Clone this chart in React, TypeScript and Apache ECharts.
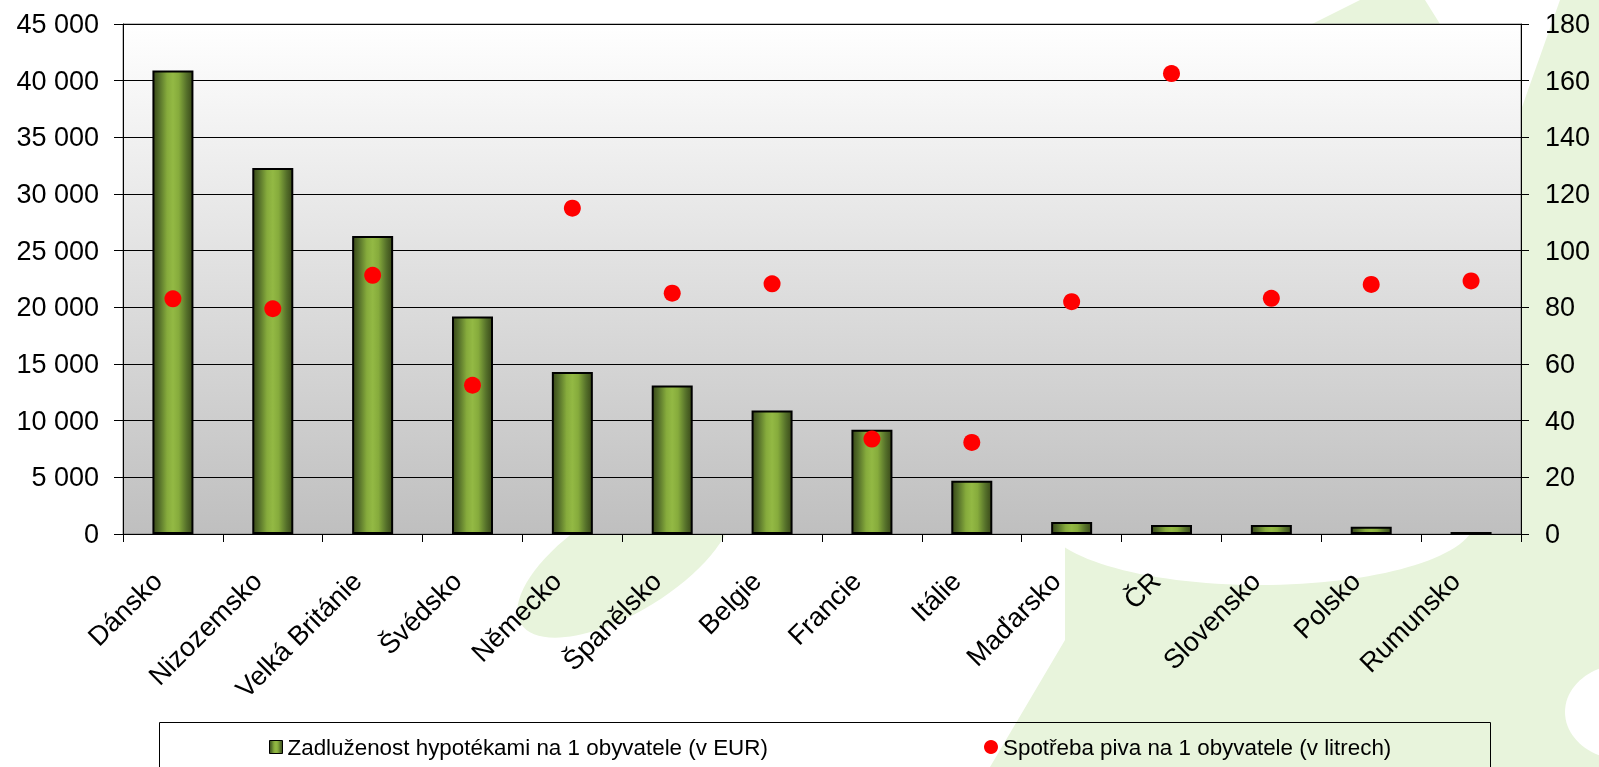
import React, { useEffect, useRef } from "react";
import * as echarts from "echarts";

// Countries on the category axis
const countries = [
  "Dánsko",
  "Nizozemsko",
  "Velká Británie",
  "Švédsko",
  "Německo",
  "Španělsko",
  "Belgie",
  "Francie",
  "Itálie",
  "Maďarsko",
  "ČR",
  "Slovensko",
  "Polsko",
  "Rumunsko",
];

// Mortgage debt per inhabitant (EUR) – bars, left axis
const mortgagePerCapita = [
  40900, 32300, 26300, 19200, 14300, 13100, 10900, 9200, 4700, 1050, 800, 800,
  650, 180,
];

// Beer consumption per inhabitant (litres) – dots, right axis
const beerPerCapita = [
  83, 79.5, 91.3, 52.5, 115, 85, 88.3, 33.5, 32.3, 82, 162.5, 83.2, 88.1, 89.3,
];

const seriesNames = [
  "Zadluženost hypotékami na 1 obyvatele (v EUR)",
  "Spotřeba piva na 1 obyvatele (v litrech)",
];

// Axis ranges
const leftAxisMax = 45000;
const leftAxisStep = 5000;
const rightAxisMax = 180;
const rightAxisStep = 20;

const FONT = "'Liberation Sans', Arial, sans-serif";
const WATERMARK = "#e8f4dc";

const withSpaces = (v: number) =>
  String(v).replace(/\B(?=(\d{3})+(?!\d))/g, " ");

export default function App() {
  const ref = useRef<HTMLDivElement>(null);

  useEffect(() => {
    if (!ref.current) return;
    const chart = echarts.init(ref.current, null, { renderer: "svg" });

    const barFill = new echarts.graphic.LinearGradient(0, 0, 1, 0, [
      { offset: 0, color: "#3a4a19" },
      { offset: 0.15, color: "#55702a" },
      { offset: 0.35, color: "#86ab3c" },
      { offset: 0.5, color: "#93b944" },
      { offset: 0.65, color: "#86ab3c" },
      { offset: 0.85, color: "#55702a" },
      { offset: 1, color: "#3a4a19" },
    ]);

    const plotFill = new echarts.graphic.LinearGradient(0, 0, 0, 1, [
      { offset: 0, color: "#ffffff" },
      { offset: 1, color: "#bfbfbf" },
    ]);

    chart.setOption({
      animation: false,
      textStyle: { fontFamily: FONT },
      graphic: [
        // pale green background emblem
        {
          type: "ellipse",
          z: -10,
          silent: true,
          x: 625,
          y: 560,
          rotation: 0.55,
          shape: { cx: 0, cy: 0, rx: 122, ry: 52 },
          style: { fill: WATERMARK },
        },
        {
          type: "polygon",
          z: -10,
          silent: true,
          shape: {
            points: [
              [1065, 530],
              [1599, 530],
              [1599, 767],
              [990, 767],
              [1065, 640],
            ],
          },
          style: { fill: WATERMARK },
        },
        {
          type: "ellipse",
          z: -9,
          silent: true,
          shape: { cx: 1260, cy: 520, rx: 215, ry: 65 },
          style: { fill: "#ffffff" },
        },
        {
          type: "polygon",
          z: -10,
          silent: true,
          shape: {
            points: [
              [1521, 110],
              [1560, 0],
              [1599, 0],
              [1599, 767],
              [1521, 767],
            ],
          },
          style: { fill: WATERMARK },
        },
        {
          type: "ellipse",
          z: -9,
          silent: true,
          shape: { cx: 1625, cy: 712, rx: 60, ry: 48 },
          style: { fill: "#ffffff" },
        },
        {
          type: "polygon",
          z: -10,
          silent: true,
          shape: {
            points: [
              [1312, 24],
              [1360, 0],
              [1425, 0],
              [1440, 24],
            ],
          },
          style: { fill: WATERMARK },
        },
        // legend frame
        {
          type: "rect",
          z: 5,
          silent: true,
          shape: { x: 159.5, y: 722.5, width: 1331, height: 60 },
          style: { fill: "none", stroke: "#000000", lineWidth: 1 },
        },
      ],
      legend: [
        {
          data: [seriesNames[0]],
          left: 269,
          top: 736,
          padding: 0,
          icon: "rect",
          itemWidth: 13,
          itemHeight: 13,
          itemStyle: { borderColor: "#000", borderWidth: 1 },
          textStyle: { fontSize: 22.4, color: "#000", fontFamily: FONT },
        },
        {
          data: [seriesNames[1]],
          left: 984,
          top: 736,
          padding: 0,
          icon: "circle",
          itemWidth: 14,
          itemHeight: 14,
          itemStyle: { opacity: 1 },
          textStyle: { fontSize: 22.4, color: "#000", fontFamily: FONT },
        },
      ],
      grid: {
        left: 123,
        right: 78,
        top: 24,
        bottom: 233,
        show: true,
        backgroundColor: plotFill,
        borderColor: "#808080",
        borderWidth: 1,
      },
      xAxis: {
        type: "category",
        data: countries,
        axisLine: { lineStyle: { color: "#000", width: 1 } },
        axisTick: { show: true, length: 8, lineStyle: { color: "#000" } },
        axisLabel: {
          interval: 0,
          rotate: 45,
          margin: 27,
          padding: [0, 22, 0, 0],
          fontSize: 27,
          color: "#000",
          fontFamily: FONT,
        },
      },
      yAxis: [
        {
          type: "value",
          min: 0,
          max: leftAxisMax,
          interval: leftAxisStep,
          axisLine: { show: true, lineStyle: { color: "#000" } },
          axisTick: { show: true, length: 9, lineStyle: { color: "#000" } },
          axisLabel: {
            margin: 24,
            fontSize: 27,
            color: "#000",
            fontFamily: FONT,
            formatter: (v: number) => withSpaces(v),
          },
          splitLine: { show: true, lineStyle: { color: "#000", width: 1 } },
        },
        {
          type: "value",
          position: "right",
          min: 0,
          max: rightAxisMax,
          interval: rightAxisStep,
          axisLine: { show: true, lineStyle: { color: "#000" } },
          axisTick: { show: true, length: 8, lineStyle: { color: "#000" } },
          axisLabel: {
            margin: 24,
            fontSize: 27,
            color: "#000",
            fontFamily: FONT,
          },
          splitLine: { show: false },
        },
      ],
      series: [
        {
          name: seriesNames[0],
          type: "bar",
          data: mortgagePerCapita,
          barWidth: 41,
          itemStyle: {
            color: barFill,
            borderColor: "#000",
            borderWidth: 2,
          },
        },
        {
          name: seriesNames[1],
          type: "scatter",
          yAxisIndex: 1,
          data: beerPerCapita,
          symbol: "circle",
          symbolSize: 17,
          itemStyle: { color: "#ff0000", opacity: 1 },
          z: 5,
        },
      ],
    });

    return () => chart.dispose();
  }, []);

  return (
    <div
      ref={ref}
      style={{
        position: "fixed",
        left: 0,
        top: 0,
        width: 1599,
        height: 767,
      }}
    />
  );
}
